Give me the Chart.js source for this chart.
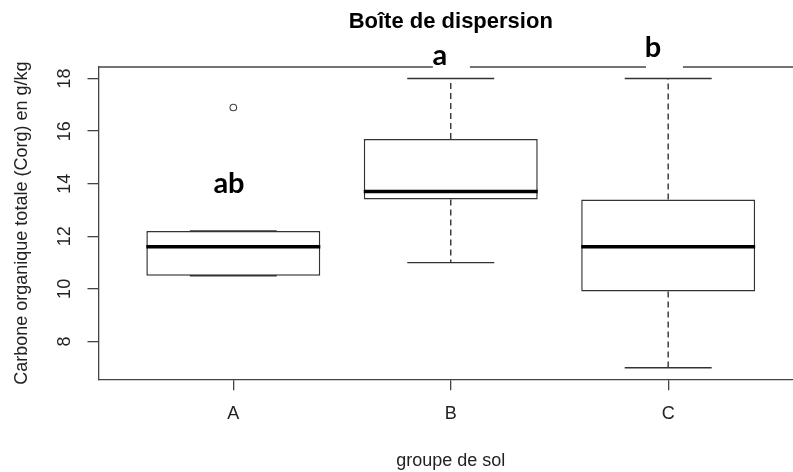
<!DOCTYPE html>
<html>
<head>
<meta charset="utf-8">
<script src="https://cdn.jsdelivr.net/npm/chart.js@4.4.0/dist/chart.umd.min.js"></script>
<style>
  html, body { margin: 0; padding: 0; background: #fff; overflow: hidden; }
  #wrap { width: 810px; height: 472px; }
</style>
</head>
<body>
<div id="wrap"><canvas id="boxChart" width="810" height="472"></canvas></div>
<script>
// Carbone organique (Corg) par groupe de sol
const groups = ['A', 'B', 'C'];
const lowerWhisker = [10.5, 11.0, 7.0];
const lowerQuartile = [10.5, 13.4, 9.9];
const medians = [11.6, 13.7, 11.6];
const upperQuartile = [12.2, 15.7, 13.4];
const upperWhisker = [12.2, 18.0, 18.0];
const outlierGroup = [0];
const outlierValue = [16.9];
const groupLetters = ['ab', 'a', 'b'];
const yTicks = [8, 10, 12, 14, 16, 18];

// boxes sit at 1..n on the x axis, like R's boxplot()
const pos = groups.map((g, i) => i + 1);

const lineColor = '#444';
const boxColor = '#333';
const textColor = '#222';

// whiskers, staples, medians, frame top and group letters
const boxParts = {
  id: 'boxParts',
  afterDatasetsDraw(chart, args, opts) {
    const { ctx, scales: { x, y } } = chart;
    const seg = (x1, y1, x2, y2) => {
      ctx.beginPath();
      ctx.moveTo(x1, y1);
      ctx.lineTo(x2, y2);
      ctx.stroke();
    };
    ctx.save();
    pos.forEach((p, i) => {
      const cx = x.getPixelForValue(p);
      const sL = x.getPixelForValue(p - opts.stapleHalf);
      const sR = x.getPixelForValue(p + opts.stapleHalf);
      const yUp = y.getPixelForValue(upperWhisker[i]);
      const yLo = y.getPixelForValue(lowerWhisker[i]);
      ctx.strokeStyle = boxColor;
      ctx.lineWidth = 1.4;
      ctx.setLineDash(opts.dash);
      seg(cx, y.getPixelForValue(upperQuartile[i]), cx, yUp);
      seg(cx, y.getPixelForValue(lowerQuartile[i]), cx, yLo);
      ctx.setLineDash([]);
      seg(sL, yUp, sR, yUp);
      seg(sL, yLo, sR, yLo);
      // median
      const ym = y.getPixelForValue(medians[i]);
      ctx.strokeStyle = '#000';
      ctx.lineWidth = 3.5;
      seg(x.getPixelForValue(p - opts.boxHalf), ym, x.getPixelForValue(p + opts.boxHalf), ym);
    });
    ctx.restore();
  },
  afterDraw(chart, args, opts) {
    const { ctx, chartArea, scales: { x, y } } = chart;
    ctx.save();
    ctx.strokeStyle = lineColor;
    ctx.lineWidth = 1.3;
    ctx.beginPath();
    ctx.moveTo(chartArea.left, chartArea.top);
    ctx.lineTo(chartArea.right, chartArea.top);
    ctx.stroke();

    ctx.font = 'bold 29px Lato, "Open Sans", sans-serif';
    ctx.textAlign = 'center';
    ctx.textBaseline = 'alphabetic';
    groupLetters.forEach((txt, i) => {
      const at = opts.letterAt[i];
      const px = x.getPixelForValue(at.x);
      const py = y.getPixelForValue(at.y);
      ctx.fillStyle = '#fff';
      ctx.fillRect(px - 7, py - 24, 37, 36);
      ctx.fillStyle = '#000';
      ctx.fillText(txt, px, py);
    });
    ctx.restore();
  }
};

const ctx = document.getElementById('boxChart').getContext('2d');
const boxChart = new Chart(ctx, {
  type: 'bar',
  data: {
    datasets: [
      {
        label: 'Corg',
        data: pos.map((p, i) => ({ x: p, y: [lowerQuartile[i], upperQuartile[i]] })),
        backgroundColor: '#fff',
        borderColor: boxColor,
        borderWidth: 1.5,
        borderSkipped: false,
        categoryPercentage: 1,
        barPercentage: 0.8
      },
      {
        type: 'scatter',
        label: 'valeurs extrêmes',
        data: outlierGroup.map((g, i) => ({ x: pos[g], y: outlierValue[i] })),
        pointStyle: 'circle',
        pointRadius: 3.3,
        borderWidth: 1.1,
        borderColor: '#444',
        backgroundColor: '#fff'
      }
    ]
  },
  options: {
    responsive: false,
    animation: false,
    layout: { padding: { left: 0, right: 7, top: 0, bottom: 0 } },
    scales: {
      x: {
        type: 'linear',
        offset: false,
        min: 0.38,
        max: 3.62,
        afterBuildTicks: (scale) => { scale.ticks = pos.map(v => ({ value: v })); },
        afterFit: (scale) => { scale.height = 92.7; },
        ticks: {
          callback: (v, i) => groups[i],
          color: textColor,
          font: { family: 'Liberation Sans', size: 18 },
          padding: 13
        },
        grid: {
          offset: false,
          drawOnChartArea: false,
          drawTicks: true,
          tickLength: 11,
          color: lineColor,
          lineWidth: 1.3
        },
        border: { color: lineColor, width: 1.3 },
        title: {
          display: true,
          text: 'groupe de sol',
          color: textColor,
          font: { family: 'Liberation Sans', size: 18 },
          padding: { top: 0, bottom: 0.5 }
        }
      },
      y: {
        min: 6.56,
        max: 18.44,
        afterBuildTicks: (scale) => { scale.ticks = yTicks.map(v => ({ value: v })); },
        afterFit: (scale) => { scale.width = 98.5; },
        ticks: {
          minRotation: 90,
          maxRotation: 90,
          crossAlign: 'center',
          color: textColor,
          font: { family: 'Liberation Sans', size: 18 },
          padding: 12.5
        },
        grid: {
          drawOnChartArea: false,
          drawTicks: true,
          tickLength: 11,
          color: lineColor,
          lineWidth: 1.3
        },
        border: { color: lineColor, width: 1.3 },
        title: {
          display: true,
          text: 'Carbone organique totale (Corg) en g/kg',
          color: textColor,
          font: { family: 'Liberation Sans', size: 18 },
          padding: { top: 11, bottom: 0 }
        }
      }
    },
    plugins: {
      legend: { display: false },
      tooltip: { enabled: false },
      title: {
        display: true,
        fullSize: false,
        text: 'Boîte de dispersion',
        color: '#000',
        font: { family: 'Liberation Sans', size: 22, weight: 'bold' },
        padding: { top: 9, bottom: 31.6 }
      },
      boxParts: {
        stapleHalf: 0.2,
        boxHalf: 0.4,
        dash: [6, 4],
        letterAt: [
          { x: 0.98, y: 13.64 },
          { x: 1.95, y: 18.52 },
          { x: 2.93, y: 18.83 }
        ]
      }
    }
  },
  plugins: [boxParts]
});
</script>
</body>
</html>
